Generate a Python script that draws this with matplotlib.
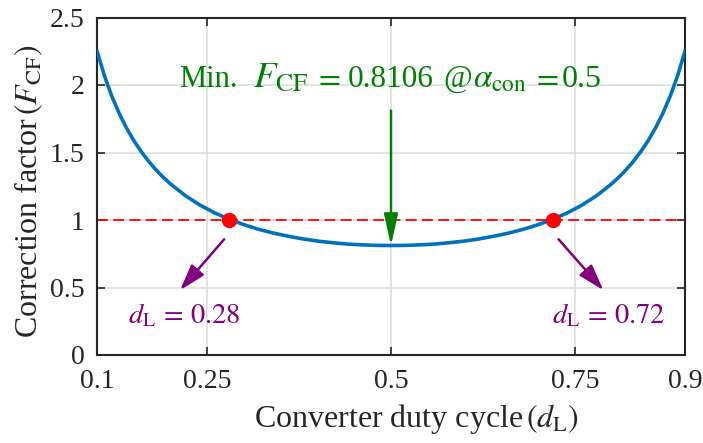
import matplotlib
matplotlib.use("Agg")
import matplotlib.pyplot as plt

plt.rcParams['font.family'] = ['Liberation Serif', 'DejaVu Serif']
plt.rcParams['mathtext.fontset'] = 'stix'

# Data
duty = [0.10, 0.11, 0.12, 0.13, 0.14, 0.15, 0.16, 0.17, 0.18, 0.19, 0.20,
        0.22, 0.24, 0.26, 0.28, 0.30, 0.32, 0.34, 0.36, 0.38, 0.40,
        0.42, 0.44, 0.46, 0.48, 0.50, 0.52, 0.54, 0.56, 0.58, 0.60,
        0.62, 0.64, 0.66, 0.68, 0.70, 0.72, 0.74, 0.76, 0.78, 0.80,
        0.81, 0.82, 0.83, 0.84, 0.85, 0.86, 0.87, 0.88, 0.89, 0.90]
fcf = [2.252, 2.070, 1.919, 1.792, 1.683, 1.589, 1.508, 1.436, 1.373, 1.317, 1.267,
       1.181, 1.111, 1.053, 1.005, 0.965, 0.931, 0.903, 0.880, 0.860, 0.844,
       0.832, 0.822, 0.816, 0.812, 0.811, 0.812, 0.816, 0.822, 0.832, 0.844,
       0.860, 0.880, 0.903, 0.931, 0.965, 1.005, 1.053, 1.111, 1.181, 1.267,
       1.317, 1.373, 1.436, 1.508, 1.589, 1.683, 1.792, 1.919, 2.070, 2.252]
cross_d = [0.28, 0.72]
cross_f = [1.0, 1.0]
ref_level = 1.0
min_d = 0.5
min_f = 0.8106
xticks = [0.1, 0.25, 0.5, 0.75, 0.9]
xticklabels = ['0.1', '0.25', '0.5', '0.75', '0.9']
yticks = [0, 0.5, 1, 1.5, 2, 2.5]
yticklabels = ['0', '0.5', '1', '1.5', '2', '2.5']

W, H = 703, 443
fig = plt.figure(figsize=(W / 100, H / 100), dpi=100)
AX_L, AX_R, AX_B, AX_T = 97, 685, 355, 17.5
ax = fig.add_axes([AX_L / W, 1 - AX_B / H, (AX_R - AX_L) / W, (AX_B - AX_T) / H])


def fx(px):
    return (px - AX_L) / (AX_R - AX_L)


def fy(py):
    return (AX_B - py) / (AX_B - AX_T)


ax.grid(True, color='#dedede', linewidth=1.2, zorder=0)
ax.set_axisbelow(True)
ax.axhline(ref_level, color='#ff0000', linestyle=(0, (6, 3)), linewidth=1.3, zorder=2)
ax.plot(duty, fcf, color='#0072BD', linewidth=2.6, zorder=3)
ax.plot(cross_d, cross_f, 'o', color='#ff0000', markersize=10, zorder=4)

ax.set_xlim(0.1, 0.9)
ax.set_ylim(0, 2.5)
ax.set_xticks(xticks)
ax.set_xticklabels(xticklabels)
ax.set_yticks(yticks)
ax.set_yticklabels(yticklabels)
ax.tick_params(direction='in', top=True, right=True, length=6, width=1.2,
               labelsize=20, colors='#262626')
ax.tick_params(axis='x', pad=10)
ax.tick_params(axis='y', pad=9)
for s in ax.spines.values():
    s.set_color('#262626')
    s.set_linewidth(1.5)

ax.set_xlabel(r'Converter duty cycle$\,(d_{\mathrm{L}})$', fontsize=23, color='#262626')
ax.xaxis.set_label_coords(fx(417), fy(402))
ax.set_ylabel(r'Correction factor$\,(F_{\mathrm{CF}})$', fontsize=23, color='#262626')
ax.yaxis.set_label_coords(fx(45), fy(191))

green = '#008000'
purple = '#800080'
base_y = fy(87)
pieces = [
    ('Min.', 22, 179),
    (r'$F_{\mathrm{CF}}$', 26.5, 253),
    (r'$=$', 23, 314),
    ('0.8106', 22.5, 348),
    ('@', 22.5, 443),
    (r'$\alpha_{\mathrm{con}}$', 24, 473),
    (r'$=$', 23, 532),
    ('0.5', 23, 562),
]
for txt, size, px in pieces:
    ax.text(fx(px), base_y, txt, transform=ax.transAxes, color=green,
            fontsize=size, ha='left', va='baseline', zorder=5)

ax.annotate('', xy=(min_d, min_f), xytext=(min_d, 1.81),
            arrowprops=dict(arrowstyle='-|>,head_length=1.9,head_width=0.42',
                            color=green, lw=1.8, shrinkA=0, shrinkB=0),
            zorder=5)

ax.annotate('', xy=(0.213, 0.48), xytext=(0.273, 0.857),
            arrowprops=dict(arrowstyle='-|>,head_length=1.6,head_width=0.5',
                            color=purple, lw=1.8, shrinkA=0, shrinkB=0))
ax.annotate('', xy=(0.789, 0.48), xytext=(0.728, 0.857),
            arrowprops=dict(arrowstyle='-|>,head_length=1.6,head_width=0.5',
                            color=purple, lw=1.8, shrinkA=0, shrinkB=0))
ax.text(fx(128), fy(323), r'$d_{\mathrm{L}}\,=\,0.28$', transform=ax.transAxes,
        color=purple, fontsize=20.5, ha='left', va='baseline')
ax.text(fx(552), fy(323), r'$d_{\mathrm{L}}\,=\,0.72$', transform=ax.transAxes,
        color=purple, fontsize=20.5, ha='left', va='baseline')

fig.savefig('out.png', dpi=100)
